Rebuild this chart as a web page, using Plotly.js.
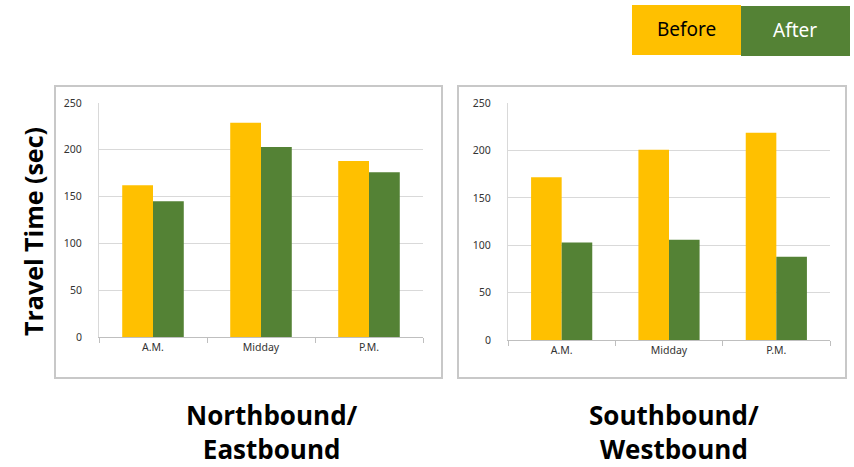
<!DOCTYPE html>
<html><head><meta charset="utf-8">
<script src="https://cdn.plot.ly/plotly-3.0.1.min.js"></script>
<style>html,body{margin:0;padding:0;background:#fff}#c{width:854px;height:467px}</style>
</head><body><div id="c"></div>
<script>
const categories = ["A.M.", "Midday", "P.M."];
const nbBefore = [162, 229, 188];
const nbAfter = [145, 203, 176];
const sbBefore = [172, 201, 219];
const sbAfter = [103, 106, 88];
const yTicks = [0, 50, 100, 150, 200, 250];
const seriesNames = ["Before", "After"];
const colors = ["#FFC000", "#548235"];

const W = 854, H = 467;
const px = v => v / W, py = v => (H - v) / H;

const traces = [
  {type:'bar', x:categories, y:nbBefore, name:seriesNames[0], marker:{color:colors[0]}, xaxis:'x', yaxis:'y'},
  {type:'bar', x:categories, y:nbAfter, name:seriesNames[1], marker:{color:colors[1]}, xaxis:'x', yaxis:'y'},
  {type:'bar', x:categories, y:sbBefore, name:seriesNames[0], marker:{color:colors[0]}, xaxis:'x2', yaxis:'y2'},
  {type:'bar', x:categories, y:sbAfter, name:seriesNames[1], marker:{color:colors[1]}, xaxis:'x2', yaxis:'y2'}
];

const tickFont = {family:'Noto Sans, sans-serif', size:10.5, color:'#333'};
function xa(d0, d1, anchor){
  return {domain:[px(d0), px(d1)], anchor:anchor, showline:true, linecolor:'#bfbfbf', linewidth:1,
    ticks:'outside', tickson:'boundaries', ticklen:5, tickcolor:'#bfbfbf', tickfont:tickFont,
    showgrid:false, zeroline:false, fixedrange:true};
}
function ya(d0, d1, anchor){
  return {domain:[py(d0), py(d1)], anchor:anchor, range:[0,250], tickvals:yTicks, ticktext:yTicks.map(String),
    showgrid:true, gridcolor:'#d9d9d9', gridwidth:1, showline:true, linecolor:'#d9d9d9', zeroline:false,
    ticks:'', ticklabelstandoff:14, tickfont:tickFont, fixedrange:true};
}

const boldFont = {family:'Open Sans, sans-serif', size:26, color:'#000', weight:'bold'};
function ann(x, y, text, font, extra){
  return Object.assign({xref:'paper', yref:'paper', x:px(x), y:py(y), text:text, showarrow:false,
    xanchor:'center', yanchor:'middle', font:font}, extra || {});
}

const layout = {
  width:W, height:H, margin:{l:0,r:0,t:0,b:0}, paper_bgcolor:'#fff', plot_bgcolor:'rgba(0,0,0,0)',
  showlegend:false, barmode:'group', bargap:0.43, bargroupgap:0,
  xaxis:xa(99, 423, 'y'), yaxis:ya(337, 103, 'x'),
  xaxis2:xa(508, 830, 'y2'), yaxis2:ya(340, 103.3, 'x2'),
  shapes:[
    {type:'rect', xref:'paper', yref:'paper', x0:px(55), x1:px(442), y0:py(378), y1:py(86), line:{color:'#c8c8c8', width:2}, layer:'below'},
    {type:'rect', xref:'paper', yref:'paper', x0:px(458), x1:px(846), y0:py(378), y1:py(86), line:{color:'#c8c8c8', width:2}, layer:'below'},
    {type:'rect', xref:'paper', yref:'paper', x0:px(632), x1:px(741), y0:py(55), y1:py(5), fillcolor:colors[0], line:{width:0}},
    {type:'rect', xref:'paper', yref:'paper', x0:px(741), x1:px(850), y0:py(56), y1:py(6), fillcolor:colors[1], line:{width:0}}
  ],
  annotations:[
    ann(686, 29, seriesNames[0], {family:'Noto Sans, sans-serif', size:19, color:'#000'}),
    ann(795, 30, seriesNames[1], {family:'Noto Sans, sans-serif', size:19, color:'#fff'}),
    ann(33, 232, 'Travel Time (sec)', {family:'Open Sans, sans-serif', size:25, color:'#000', weight:'bold'}, {textangle:-90}),
    ann(272, 432, 'Northbound/<br>Eastbound', boldFont),
    ann(674, 432, 'Southbound/<br>Westbound', boldFont)
  ]
};
Plotly.newPlot('c', traces, layout, {displayModeBar:false, staticPlot:true});
</script></body></html>
